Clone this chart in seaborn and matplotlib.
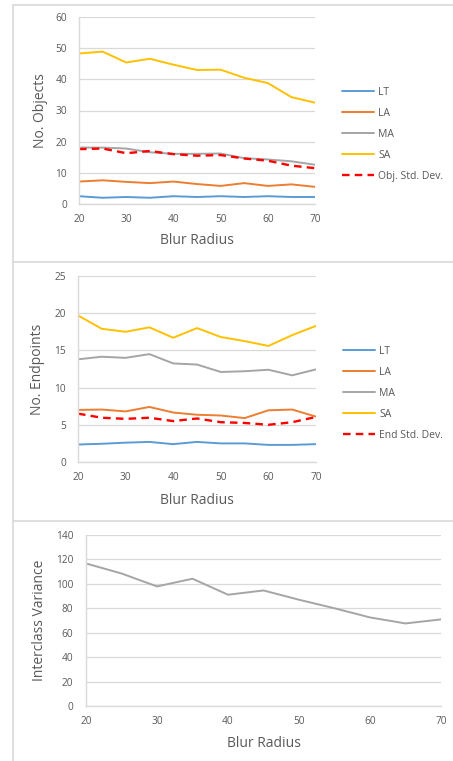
import matplotlib
matplotlib.use("Agg")
import matplotlib.pyplot as plt
from matplotlib.lines import Line2D
import seaborn as sns
import pandas as pd

# Blur radius sweep shared by all three panels
blur_radius = [20, 25, 30, 35, 40, 45, 50, 55, 60, 65, 70]

# Panel 1: number of objects per class
obj_lt = [2.5, 2.0, 2.25, 2.0, 2.5, 2.25, 2.5, 2.25, 2.5, 2.25, 2.25]
obj_la = [7.2, 7.6, 7.1, 6.7, 7.2, 6.4, 5.8, 6.7, 5.8, 6.3, 5.5]
obj_ma = [18.1, 18.1, 17.8, 16.6, 16.1, 16.1, 16.2, 14.7, 14.3, 13.7, 12.6]
obj_sa = [48.3, 48.9, 45.4, 46.6, 44.7, 43.0, 43.1, 40.5, 38.8, 34.3, 32.5]
obj_std = [17.6, 17.8, 16.3, 17.0, 16.0, 15.5, 15.7, 14.6, 13.9, 12.3, 11.5]

# Panel 2: number of endpoints per class
end_lt = [2.35, 2.45, 2.6, 2.7, 2.4, 2.7, 2.5, 2.5, 2.3, 2.3, 2.4]
end_la = [7.0, 7.05, 6.8, 7.4, 6.65, 6.35, 6.25, 5.9, 6.95, 7.05, 6.1]
end_ma = [13.8, 14.15, 14.0, 14.5, 13.25, 13.1, 12.1, 12.2, 12.4, 11.65, 12.45]
end_sa = [19.7, 17.9, 17.5, 18.1, 16.7, 18.0, 16.8, 16.25, 15.6, 17.05, 18.3]
end_std = [6.5, 5.95, 5.8, 5.95, 5.5, 5.85, 5.35, 5.25, 5.0, 5.35, 6.05]

# Panel 3: interclass variance
interclass_var = [116.7, 108.5, 97.9, 104.2, 91.1, 94.6, 87.0, 80.0, 72.5, 67.6, 70.9]

class_labels = ["LT", "LA", "MA", "SA"]
class_colors = ["#5B9BD5", "#ED7D31", "#A5A5A5", "#FFC000"]
std_color = "#FF0000"
text_color = "#595959"
grid_color = "#D9D9D9"

sns.set_theme(style="white")
plt.rcParams["font.family"] = ["Open Sans", "DejaVu Sans"]

W, H = 453, 761
fig = plt.figure(figsize=(W / 100, H / 100), dpi=100)


def px_axes(x0, x1, y_top, y_bot):
    return fig.add_axes([x0 / W, 1 - y_bot / H, (x1 - x0) / W, (y_bot - y_top) / H])


def style_axes(ax, ymax, ystep, ylabel, ylab_x, xlab_y, ypad):
    ax.set_xlim(20, 70)
    ax.set_ylim(0, ymax)
    ax.set_xticks(range(20, 71, 10))
    ax.set_yticks(range(0, ymax + 1, ystep))
    ax.grid(axis="y", color=grid_color, linewidth=0.9)
    ax.grid(axis="x", visible=False)
    ax.set_axisbelow(True)
    for side in ("top", "right"):
        ax.spines[side].set_visible(False)
    for side in ("left", "bottom"):
        ax.spines[side].set_color(grid_color)
        ax.spines[side].set_linewidth(1.0)
    ax.tick_params(axis="both", length=0, labelsize=7.3, labelcolor=text_color)
    ax.tick_params(axis="y", pad=ypad)
    ax.tick_params(axis="x", pad=7.5)
    ax.set_xlabel("Blur Radius", fontsize=10, color=text_color)
    ax.set_ylabel(ylabel, fontsize=10, color=text_color)
    ax.yaxis.set_label_coords(ylab_x, 0.5)
    ax.xaxis.set_label_coords(0.5, xlab_y)


def draw_classes(ax, series, std, std_label, legend_xy):
    for vals, lab, col in zip(series, class_labels, class_colors):
        df = pd.DataFrame({"Blur Radius": blur_radius, "value": vals})
        sns.lineplot(data=df, x="Blur Radius", y="value", ax=ax, color=col,
                     linewidth=1.4, label=lab)
    df = pd.DataFrame({"Blur Radius": blur_radius, "value": std})
    sns.lineplot(data=df, x="Blur Radius", y="value", ax=ax, color=std_color,
                 linewidth=1.7, dashes=False, label=std_label)
    ax.lines[-1].set_dashes((3.2, 2.2))
    handles = [Line2D([], [], color=c, linewidth=1.4) for c in class_colors]
    handles.append(Line2D([], [], color=std_color, linewidth=1.7, dashes=(3.2, 2.2)))
    ax.legend(handles, class_labels + [std_label], loc="upper left",
              bbox_to_anchor=(legend_xy[0] / W, 1 - legend_xy[1] / H),
              bbox_transform=fig.transFigure, frameon=False, borderpad=0,
              borderaxespad=0, handlelength=3.1, handletextpad=0.4,
              labelspacing=0.95, fontsize=7.5, labelcolor=text_color)


# Panel 1
ax1 = px_axes(79, 315, 17, 204)
draw_classes(ax1, [obj_lt, obj_la, obj_ma, obj_sa], obj_std, "Obj. Std. Dev.", (342, 87))
style_axes(ax1, 60, 10, "No. Objects", -0.13, -0.155, 8.5)

# Panel 2
ax2 = px_axes(78, 316, 276, 462)
draw_classes(ax2, [end_lt, end_la, end_ma, end_sa], end_std, "End Std. Dev.", (343, 346))
style_axes(ax2, 25, 5, "No. Endpoints", -0.14, -0.165, 8.5)

# Panel 3
ax3 = px_axes(86, 441, 535, 706)
df3 = pd.DataFrame({"Blur Radius": blur_radius, "value": interclass_var})
sns.lineplot(data=df3, x="Blur Radius", y="value", ax=ax3, color="#A5A5A5", linewidth=1.4)
style_axes(ax3, 140, 20, "Interclass Variance", -0.11, -0.175, 9.0)

# Chart frame outlines
frame_kw = dict(color=grid_color, linewidth=1.2, transform=fig.transFigure)
fig.add_artist(Line2D([13 / W, 13 / W], [0, 1 - 5 / H], **frame_kw))
for yp in (5, 262, 521):
    fig.add_artist(Line2D([13 / W, 1], [1 - yp / H, 1 - yp / H], **frame_kw))

fig.savefig("out.png", dpi=100, facecolor="white")
